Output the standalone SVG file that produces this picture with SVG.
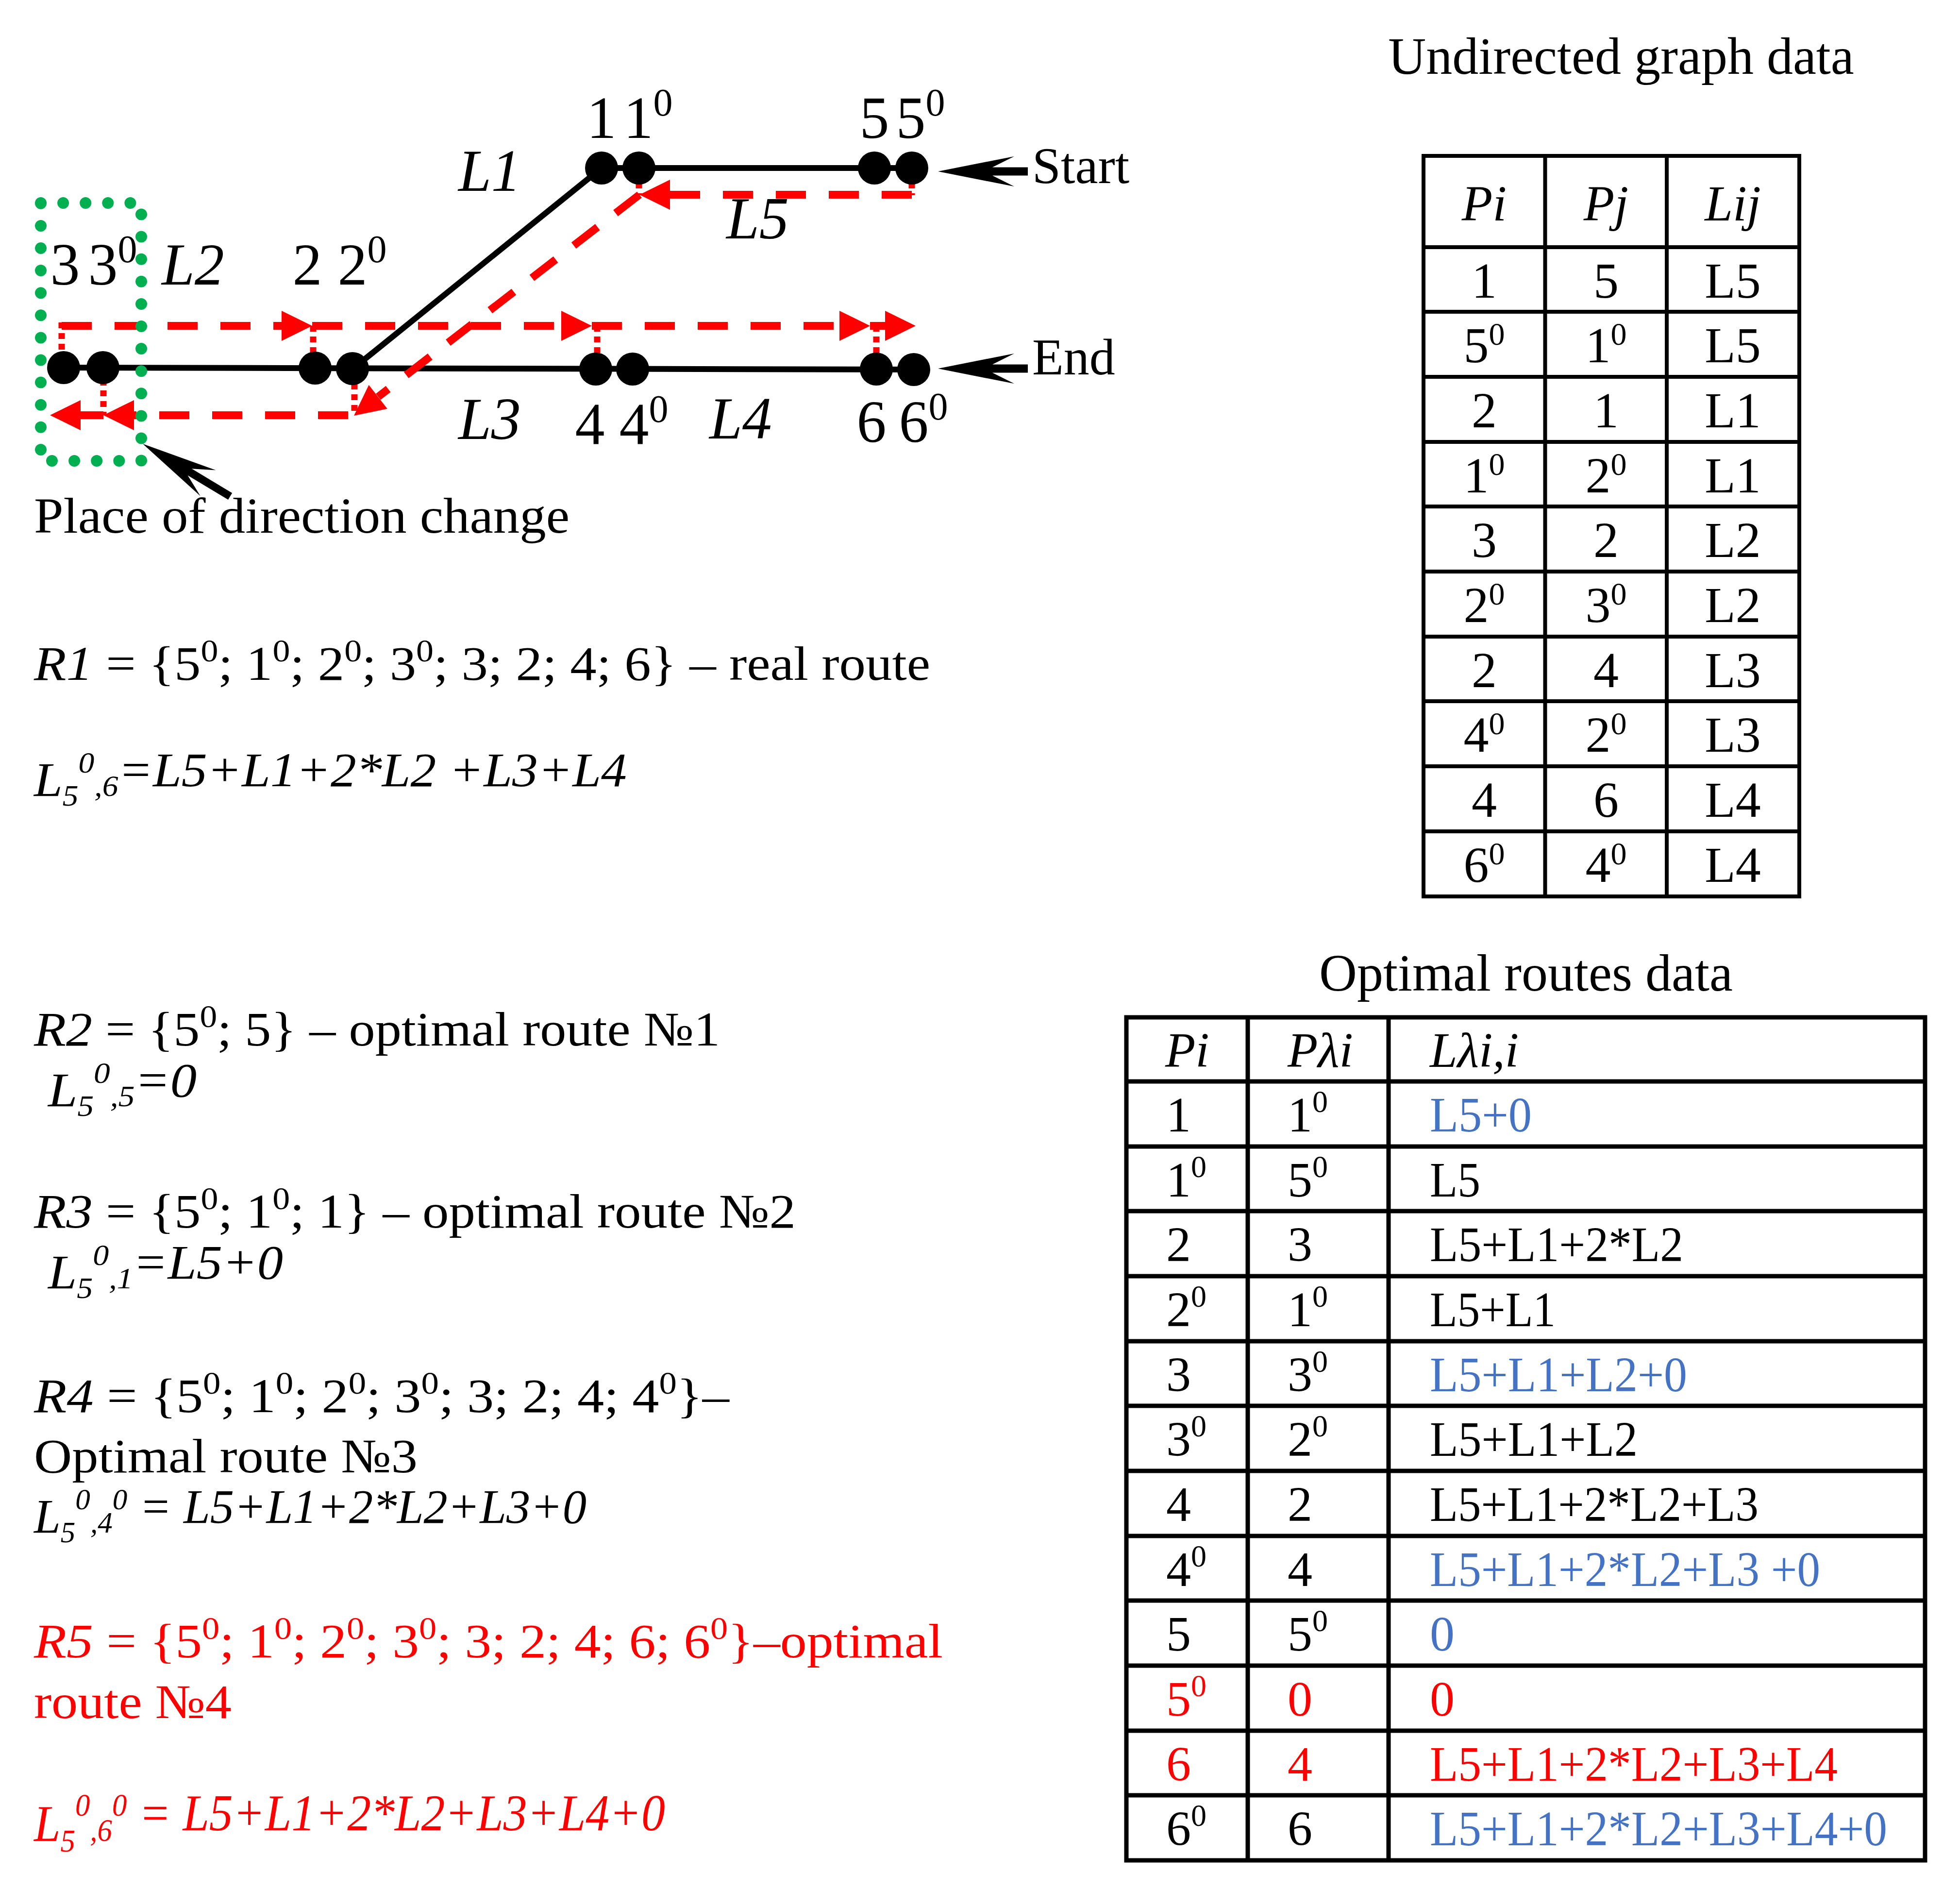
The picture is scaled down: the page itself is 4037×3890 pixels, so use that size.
<svg xmlns="http://www.w3.org/2000/svg" xmlns:xlink="http://www.w3.org/1999/xlink" width="4037" height="3890" viewBox="0 0 4037 3890">
<style>
.t{font-family:"Liberation Serif","Times New Roman",serif;fill:#000}
.i{font-style:italic}
.red{fill:#FF0000}
.blue{fill:#4472C4}
.nl{font-size:122px}
.el{font-size:122px;font-style:italic}
.ln{stroke:#000;stroke-width:12;fill:none}
.rd{stroke:#FF0000;stroke-width:16;fill:none;stroke-dasharray:62 47}
.rs{stroke:#FF0000;stroke-width:16;fill:none}
.rdot{stroke:#FF0000;stroke-width:13;fill:none;stroke-dasharray:12 10}
.ah{fill:#FF0000}
.g1{stroke:#000;stroke-width:8;fill:none}
.g2{stroke:#000;stroke-width:9;fill:none}
.t1{font-size:104px;text-anchor:middle}
.t2{font-size:102px}
.tt{font-size:108px;text-anchor:middle}
.lt{font-size:100px}
.lf{font-size:100px;font-style:italic}
</style>
<defs>
<path id="tri" d="M0,0 L-63,-31 L-63,31 Z"/>
<path id="barrow" d="M0,0 L157,-31 L112,-8.5 L185,-8.5 L185,8.5 L112,8.5 L157,31 Z"/>
</defs>
<rect width="4037" height="3890" fill="#fff"/>

<g id="connectors">
  <g id="edges">
    <line class="ln" x1="131" y1="757" x2="1882" y2="761"/>
    <line class="ln" x1="1239" y1="346" x2="1878" y2="346"/>
    <line class="ln" x1="726" y1="760" x2="1239" y2="346"/>
  </g>
  <g id="edge-labels">
    <text class="t el" x="944" y="393">L1</text>
    <text class="t el" x="333" y="586">L2</text>
    <text class="t el" x="944" y="904">L3</text>
    <text class="t el" x="1461" y="903">L4</text>
    <text class="t el" x="1496" y="491">L5</text>
  </g>
  <g id="route">
    <path class="rd" d="M1878,401 H1380"/>
    <use href="#tri" class="ah" transform="translate(1317,401) rotate(180)"/>
    <path class="rd" d="M1317,401 L779,817"/>
    <use href="#tri" class="ah" transform="translate(729,856) rotate(142.1)"/>
    <path class="rd" d="M717,855 H276"/>
    <use href="#tri" class="ah" transform="translate(213,855) rotate(180)"/>
    <path class="rs" d="M213,855 H160"/>
    <use href="#tri" class="ah" transform="translate(103,855) rotate(180)"/>
    <path class="rd" d="M127,671 H585"/>
    <use href="#tri" class="ah" transform="translate(643,671)"/>
    <path class="rd" d="M643,671 H1157"/>
    <use href="#tri" class="ah" transform="translate(1219,671)"/>
    <path class="rd" d="M1219,671 H1730"/>
    <use href="#tri" class="ah" transform="translate(1792,671)"/>
    <path class="rs" d="M1792,671 H1826"/>
    <use href="#tri" class="ah" transform="translate(1886,671)"/>
  </g>
  <g id="links">
    <path class="rdot" d="M127,664 V757"/>
    <path class="rdot" d="M645,671 V757"/>
    <path class="rdot" d="M1230,671 V760"/>
    <path class="rdot" d="M1805,671 V757"/>
    <path class="rdot" d="M213,760 V855"/>
    <path class="rdot" d="M730,768 V852"/>
    <path class="rdot" d="M1316,354 V402"/>
    <path class="rdot" d="M1878,354 V402"/>
  </g>
  <g id="pointers">
    <use href="#barrow" transform="translate(1932,353)"/>
    <use href="#barrow" transform="translate(1932,759)"/>
    <path d="M0,0 L157,-31 L113,-8 L210,-8 L210,8 L113,8 L157,31 Z" transform="translate(294,914) rotate(31)"/>
  </g>
</g>

<g id="direction-change-area">
  <rect x="84" y="418" width="207" height="531" fill="none" stroke="#00B050" stroke-width="24" stroke-linecap="round" stroke-dasharray="0 46.1"/>
</g>

<g id="node-3"><circle cx="131" cy="757" r="34"/><text class="t nl" x="103.5" y="586">3</text></g>
<g id="node-3o"><circle cx="212" cy="757" r="34"/><text class="t nl" x="181.5" y="586">3<tspan dy="-46" font-size="80">0</tspan></text></g>
<g id="node-2"><circle cx="649" cy="758" r="34"/><text class="t nl" x="602.5" y="586">2</text></g>
<g id="node-2o"><circle cx="726" cy="759" r="34"/><text class="t nl" x="695.5" y="586">2<tspan dy="-46" font-size="80">0</tspan></text></g>
<g id="node-4"><circle cx="1227" cy="760" r="34"/><text class="t nl" x="1184.5" y="915">4</text></g>
<g id="node-4o"><circle cx="1303" cy="760" r="34"/><text class="t nl" x="1275.5" y="915">4<tspan dy="-46" font-size="80">0</tspan></text></g>
<g id="node-6"><circle cx="1805" cy="760" r="34"/><text class="t nl" x="1764.5" y="910">6</text></g>
<g id="node-6o"><circle cx="1882" cy="761" r="34"/><text class="t nl" x="1851.5" y="910">6<tspan dy="-46" font-size="80">0</tspan></text></g>
<g id="node-1"><circle cx="1239" cy="346" r="34"/><text class="t nl" x="1208.5" y="284">1</text></g>
<g id="node-1o"><circle cx="1316" cy="346" r="34"/><text class="t nl" x="1284.5" y="284">1<tspan dy="-46" font-size="80">0</tspan></text></g>
<g id="node-5"><circle cx="1801" cy="346" r="34"/><text class="t nl" x="1770.5" y="284">5</text></g>
<g id="node-5o"><circle cx="1878" cy="346" r="34"/><text class="t nl" x="1845.5" y="284">5<tspan dy="-46" font-size="80">0</tspan></text></g>

<g id="labels">
  <text class="t" font-size="106" x="2126" y="377">Start</text>
  <text class="t" font-size="106" x="2126" y="771">End</text>
  <text class="t" font-size="104" x="70" y="1097" textLength="1103" lengthAdjust="spacingAndGlyphs">Place of direction change</text>
</g>

<g id="routes-text">
  <text class="t lt" x="70" y="1400" textLength="1846" lengthAdjust="spacingAndGlyphs"><tspan class="i">R1</tspan> = {5<tspan dy="-38" font-size="66">0</tspan><tspan dy="38">; 1</tspan><tspan dy="-38" font-size="66">0</tspan><tspan dy="38">; 2</tspan><tspan dy="-38" font-size="66">0</tspan><tspan dy="38">; 3</tspan><tspan dy="-38" font-size="66">0</tspan><tspan dy="38">; 3; 2; 4; 6} – real route</tspan></text>
  <text class="t lf" x="70" y="1639" textLength="1221" lengthAdjust="spacingAndGlyphs">L<tspan dy="20" font-size="62">5</tspan><tspan dy="-68" font-size="62">0</tspan><tspan dy="48" font-size="62">,6</tspan><tspan dy="-20">=L5+L1+2*L2 +L3+L4</tspan></text>

  <text class="t lt" x="70" y="2153" textLength="1413" lengthAdjust="spacingAndGlyphs"><tspan class="i">R2</tspan> = {5<tspan dy="-38" font-size="66">0</tspan><tspan dy="38">; 5} – optimal route №1</tspan></text>
  <text class="t lf" x="99" y="2278" textLength="306" lengthAdjust="spacingAndGlyphs">L<tspan dy="20" font-size="62">5</tspan><tspan dy="-68" font-size="62">0</tspan><tspan dy="48" font-size="62">,5</tspan><tspan dy="-20">=0</tspan></text>

  <text class="t lt" x="70" y="2528" textLength="1569" lengthAdjust="spacingAndGlyphs"><tspan class="i">R3</tspan> = {5<tspan dy="-38" font-size="66">0</tspan><tspan dy="38">; 1</tspan><tspan dy="-38" font-size="66">0</tspan><tspan dy="38">; 1} – optimal route №2</tspan></text>
  <text class="t lf" x="99" y="2653" textLength="484" lengthAdjust="spacingAndGlyphs">L<tspan dy="20" font-size="62">5</tspan><tspan dy="-68" font-size="62">0</tspan><tspan dy="48" font-size="62">,1</tspan><tspan dy="-20">=L5+0</tspan></text>

  <text class="t lt" x="70" y="2908" textLength="1432" lengthAdjust="spacingAndGlyphs"><tspan class="i">R4</tspan> = {5<tspan dy="-38" font-size="66">0</tspan><tspan dy="38">; 1</tspan><tspan dy="-38" font-size="66">0</tspan><tspan dy="38">; 2</tspan><tspan dy="-38" font-size="66">0</tspan><tspan dy="38">; 3</tspan><tspan dy="-38" font-size="66">0</tspan><tspan dy="38">; 3; 2; 4; 4</tspan><tspan dy="-38" font-size="66">0</tspan><tspan dy="38">}–</tspan></text>
  <text class="t lt" x="70" y="3032" textLength="790" lengthAdjust="spacingAndGlyphs">Optimal route №3</text>
  <text class="t lf" x="70" y="3156" textLength="1138" lengthAdjust="spacingAndGlyphs">L<tspan dy="20" font-size="62">5</tspan><tspan dy="-68" font-size="62">0</tspan><tspan dy="48" font-size="62">,4</tspan><tspan dy="-48" font-size="62">0</tspan><tspan dy="28"> = L5+L1+2*L2+L3+0</tspan></text>

  <text class="t lt red" x="70" y="3413" textLength="1872" lengthAdjust="spacingAndGlyphs"><tspan class="i">R5</tspan> = {5<tspan dy="-38" font-size="66">0</tspan><tspan dy="38">; 1</tspan><tspan dy="-38" font-size="66">0</tspan><tspan dy="38">; 2</tspan><tspan dy="-38" font-size="66">0</tspan><tspan dy="38">; 3</tspan><tspan dy="-38" font-size="66">0</tspan><tspan dy="38">; 3; 2; 4; 6; 6</tspan><tspan dy="-38" font-size="66">0</tspan><tspan dy="38">}–optimal</tspan></text>
  <text class="t lt red" x="70" y="3538" textLength="407" lengthAdjust="spacingAndGlyphs">route №4</text>
  <text class="t lf red" x="70" y="3791" textLength="1300" lengthAdjust="spacingAndGlyphs" style="font-size:106px">L<tspan dy="22" font-size="66">5</tspan><tspan dy="-74" font-size="66">0</tspan><tspan dy="52" font-size="66">,6</tspan><tspan dy="-52" font-size="66">0</tspan><tspan dy="30"> = L5+L1+2*L2+L3+L4+0</tspan></text>
</g>

<g id="table-undirected">
  <text class="t tt" x="3339" y="152">Undirected graph data</text>
  <rect class="g1" x="2932" y="321" width="774" height="1525"/>
  <path class="g1" d="M3182.5,321 V1846 M3433,321 V1846 M2932,509 H3706 M2932,642 H3706 M2932,776 H3706 M2932,910 H3706 M2932,1043 H3706 M2932,1177 H3706 M2932,1311 H3706 M2932,1444 H3706 M2932,1578 H3706 M2932,1712 H3706"/>
  <g class="t t1">
    <text class="i" x="3057" y="454">Pi</text><text class="i" x="3308" y="454">Pj</text><text class="i" x="3569" y="454">Lij</text>
    <text x="3057" y="613">1</text><text x="3308" y="613">5</text><text x="3569" y="613">L5</text>
    <text x="3057" y="746">5<tspan dy="-36" font-size="66">0</tspan></text><text x="3308" y="746">1<tspan dy="-36" font-size="66">0</tspan></text><text x="3569" y="746">L5</text>
    <text x="3057" y="880">2</text><text x="3308" y="880">1</text><text x="3569" y="880">L1</text>
    <text x="3057" y="1014">1<tspan dy="-36" font-size="66">0</tspan></text><text x="3308" y="1014">2<tspan dy="-36" font-size="66">0</tspan></text><text x="3569" y="1014">L1</text>
    <text x="3057" y="1147">3</text><text x="3308" y="1147">2</text><text x="3569" y="1147">L2</text>
    <text x="3057" y="1281">2<tspan dy="-36" font-size="66">0</tspan></text><text x="3308" y="1281">3<tspan dy="-36" font-size="66">0</tspan></text><text x="3569" y="1281">L2</text>
    <text x="3057" y="1415">2</text><text x="3308" y="1415">4</text><text x="3569" y="1415">L3</text>
    <text x="3057" y="1548">4<tspan dy="-36" font-size="66">0</tspan></text><text x="3308" y="1548">2<tspan dy="-36" font-size="66">0</tspan></text><text x="3569" y="1548">L3</text>
    <text x="3057" y="1682">4</text><text x="3308" y="1682">6</text><text x="3569" y="1682">L4</text>
    <text x="3057" y="1816">6<tspan dy="-36" font-size="66">0</tspan></text><text x="3308" y="1816">4<tspan dy="-36" font-size="66">0</tspan></text><text x="3569" y="1816">L4</text>
  </g>
</g>

<g id="table-optimal">
  <text class="t tt" x="3143" y="2040">Optimal routes data</text>
  <rect class="g2" x="2320" y="2095" width="1645" height="1736"/>
  <path class="g2" d="M2570,2095 V3831 M2860,2095 V3831 M2320,2227 H3965 M2320,2361 H3965 M2320,2494 H3965 M2320,2628 H3965 M2320,2762 H3965 M2320,2895 H3965 M2320,3029 H3965 M2320,3163 H3965 M2320,3296 H3965 M2320,3430 H3965 M2320,3564 H3965 M2320,3697 H3965"/>
  <g class="t t2">
    <text class="i" x="2400" y="2197">Pi</text><text class="i" x="2652" y="2197">Pλi</text><text class="i" x="2945" y="2197">Lλi,i</text>
    <text x="2402" y="2330">1</text><text x="2652" y="2330">1<tspan dy="-40" font-size="64">0</tspan></text><text class="blue" x="2945" y="2330" textLength="210" lengthAdjust="spacingAndGlyphs">L5+0</text>
    <text x="2402" y="2464">1<tspan dy="-40" font-size="64">0</tspan></text><text x="2652" y="2464">5<tspan dy="-40" font-size="64">0</tspan></text><text x="2945" y="2464" textLength="104" lengthAdjust="spacingAndGlyphs">L5</text>
    <text x="2402" y="2597">2</text><text x="2652" y="2597">3</text><text x="2945" y="2597" textLength="522" lengthAdjust="spacingAndGlyphs">L5+L1+2*L2</text>
    <text x="2402" y="2731">2<tspan dy="-40" font-size="64">0</tspan></text><text x="2652" y="2731">1<tspan dy="-40" font-size="64">0</tspan></text><text x="2945" y="2731" textLength="259" lengthAdjust="spacingAndGlyphs">L5+L1</text>
    <text x="2402" y="2865">3</text><text x="2652" y="2865">3<tspan dy="-40" font-size="64">0</tspan></text><text class="blue" x="2945" y="2865" textLength="530" lengthAdjust="spacingAndGlyphs">L5+L1+L2+0</text>
    <text x="2402" y="2998">3<tspan dy="-40" font-size="64">0</tspan></text><text x="2652" y="2998">2<tspan dy="-40" font-size="64">0</tspan></text><text x="2945" y="2998" textLength="428" lengthAdjust="spacingAndGlyphs">L5+L1+L2</text>
    <text x="2402" y="3132">4</text><text x="2652" y="3132">2</text><text x="2945" y="3132" textLength="677" lengthAdjust="spacingAndGlyphs">L5+L1+2*L2+L3</text>
    <text x="2402" y="3266">4<tspan dy="-40" font-size="64">0</tspan></text><text x="2652" y="3266">4</text><text class="blue" x="2945" y="3266" textLength="804" lengthAdjust="spacingAndGlyphs">L5+L1+2*L2+L3 +0</text>
    <text x="2402" y="3399">5</text><text x="2652" y="3399">5<tspan dy="-40" font-size="64">0</tspan></text><text class="blue" x="2945" y="3399">0</text>
    <text class="red" x="2402" y="3533">5<tspan dy="-40" font-size="64">0</tspan></text><text class="red" x="2652" y="3533">0</text><text class="red" x="2945" y="3533">0</text>
    <text class="red" x="2402" y="3667">6</text><text class="red" x="2652" y="3667">4</text><text class="red" x="2945" y="3667" textLength="840" lengthAdjust="spacingAndGlyphs">L5+L1+2*L2+L3+L4</text>
    <text x="2402" y="3800">6<tspan dy="-40" font-size="64">0</tspan></text><text x="2652" y="3800">6</text><text class="blue" x="2945" y="3800" textLength="942" lengthAdjust="spacingAndGlyphs">L5+L1+2*L2+L3+L4+0</text>
  </g>
</g>
</svg>
